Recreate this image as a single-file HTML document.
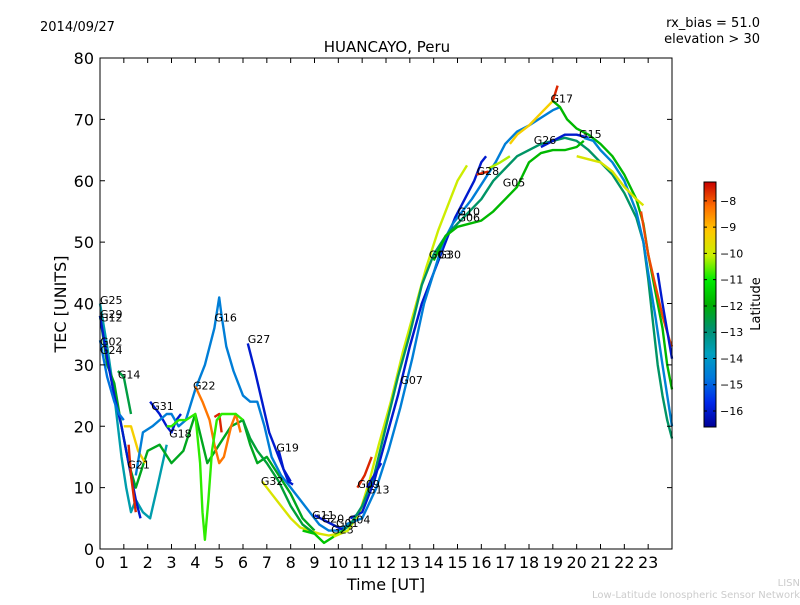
<!DOCTYPE html>
<html><head><meta charset="utf-8"><style>
body{margin:0;background:#fff;width:800px;height:600px;overflow:hidden}
svg text{font-family:"DejaVu Sans","Liberation Sans",sans-serif}
</style></head><body>
<svg id="chart" width="800" height="600" viewBox="0 0 800 600" xmlns="http://www.w3.org/2000/svg">
<rect width="800" height="600" fill="#fff"/>
<text x="40" y="31" font-size="13">2014/09/27</text>
<text x="760" y="27" font-size="13" text-anchor="end">rx_bias = 51.0</text>
<text x="760" y="43" font-size="13" text-anchor="end">elevation &gt; 30</text>
<text x="387" y="52" font-size="15" text-anchor="middle">HUANCAYO, Peru</text>
<text x="386" y="590" font-size="16" text-anchor="middle">Time [UT]</text>
<text transform="translate(66,304) rotate(-90)" font-size="16" text-anchor="middle">TEC [UNITS]</text>
<text x="800" y="586" font-size="10" fill="#ccc" text-anchor="end">LISN</text>
<text x="800" y="598" font-size="10" fill="#ccc" text-anchor="end">Low-Latitude Ionospheric Sensor Network</text>
<g id="series"></g>
<g id="labels"></g>
<rect x="100" y="58" width="572" height="491" fill="none" stroke="#000" stroke-width="1"/>
<g id="xticks"></g>
<g id="yticks"></g>
<defs><linearGradient id="cmapg" x1="0" y1="1" x2="0" y2="0"></linearGradient></defs>
<rect x="704" y="182" width="12" height="245" fill="url(#cmapg)" stroke="#000" stroke-width="1"/>
<g id="cticks"></g>
<text transform="translate(760,304) rotate(-90)" font-size="13" text-anchor="middle">Latitude</text>
</svg>
<script>
const xTicks=[0,1,2,3,4,5,6,7,8,9,10,11,12,13,14,15,16,17,18,19,20,21,22,23];
const yTicks=[0,10,20,30,40,50,60,70,80];
const cTicks=[-8,-9,-10,-11,-12,-13,-14,-15,-16];
const latMin=-16.61, latMax=-7.28;
const seriesNames=["G25","G29","G12","G02","G14","G21a","G21b","G31","teal16","G22","G22b","yg","G27","G19","G32","grn1","G11","grnB","riseA","riseB","riseC","riseD","riseE","G26","G17","G17r","G17g","G15","yel","orr","blu","G28","G28y","G09","G13"];
const seriesLat=[-13.6,-12.2,-16,-14.8,-12.5,-7.6,-9.3,-16,-14.6,-8.3,-7.6,-10.8,-16,-16,-9.8,-12.4,-16,-11.6,-10,-16,-14.6,-12.8,-11.8,-16,-9.3,-7.6,-11.8,-14.5,-9.8,-7.9,-16,-7.6,-10.2,-7.6,-16];
const seriesT=[
[0,0.3,0.6,0.9,1.1,1.3,1.5,1.8,2.1,2.4,2.8],
[0,0.3,0.6,0.9,1.2,1.5,2,2.5,3,3.5,4,4.5,5,5.5,6,6.3,6.6,7,7.5,8,8.5,9],
[0,0.3,0.6,0.9,1.1,1.3,1.5,1.7],
[0,0.3,0.6,0.8,1.0],
[0.75,1,1.2,1.3],
[1.2,1.3,1.4,1.5],
[1.0,1.3,1.6,1.9],
[2.1,2.5,2.8,3.0,3.2,3.4],
[1.5,1.8,2.2,2.5,2.8,3,3.3,3.6,4,4.4,4.8,5.0,5.1,5.3,5.6,6,6.3,6.6,6.9,7.2,7.6,8,8.4,8.8,9.2,9.6,10,10.4],
[4.0,4.3,4.6,4.8,5.0,5.2,5.5,5.7,5.9],
[4.8,5.0,5.1],
[2.8,3.0,3.3,3.6,4,4.2,4.3,4.4,4.55,4.7,4.9,5.1,5.4,5.7,6],
[6.2,6.5,6.8,7.1,7.4,7.7,8],
[7.5,7.7,7.9,8.1],
[6.8,7.2,7.6,8,8.4,8.8,9.2,9.6,10],
[6,6.3,6.6,7,7.5,8,8.5,9],
[9,9.5,10,10.3],
[8.5,9,9.4,9.8,10.2,10.5],
[9.8,10.4,10.9,11.3,11.7,12.2,12.7,13.2,13.7,14.2,14.7,15.0,15.4],
[10.5,11,11.5,12,12.5,13,13.5,14,14.5,14.9,15.3,15.7,16,16.2],
[10.3,11,11.6,12.1,12.6,13.1,13.6,14,14.4,14.8,15.2,15.6,16.1,16.6,17,17.5,18,18.4,19,19.3],
[10.2,10.5,11,11.5,12,12.5,13,13.5,14,14.5,15,15.5,16,16.5,17,17.5,18,18.5,19,19.5,20,20.5,21,21.5,22,22.5,22.8,23,23.2,23.4,23.6,23.8,24],
[14,14.5,15,15.5,16,16.5,17,17.5,18,18.5,19,19.5,20,20.3],
[18.5,19,19.5,20,20.5],
[17.2,17.5,18,18.5,19.0],
[19.0,19.2],
[19,19.3,19.6,20,20.5,21,21.5,22,22.5,22.8,23,23.3,23.6,23.8,24],
[20.3,20.7,21,21.5,22,22.5,22.8,23,23.3,23.6,24],
[20,20.5,21,21.5,22,22.5,22.8],
[22.7,23,23.3,23.6,23.9,24],
[23.4,23.6,24],
[15.8,16.3],
[16.3,16.8,17.2],
[10.8,11.1,11.4],
[11.2,11.5,11.8]
];
const seriesV=[
[40,33,25,15,10,6,8,6,5,10,17],
[38,30,27,20,14,10,16,17,14,16,22,14,17,20,21,17,14,15,12,9,5,3],
[38,31,25,20,16,12,8,5],
[34,28,24,22,21],
[29,28,24,22],
[17,12,9,6],
[20,20,16,14],
[24,22,20,19,21,22],
[12,19,20,21,22,22,20,21,26,30,36,41,38,33,29,25,24,24,20,15,12,10,8,6,4,3,3,4],
[26.5,24,21,17,14,15,20,22,19],
[21.5,22,19],
[20,20,21,21,22,14,6,1.5,8,16,21,22,22,22,21],
[33.5,29,24,19,16,13,11],
[16,13,11,10.5],
[11,9,7,5,3.5,3,2.5,2.2,2.5],
[21,18,16,14,11,7,4,2.5],
[5.5,4.5,3.5,3],
[3,2.5,1,2,3,4],
[2,3,6,11,17,24,32,39,46,52,57,60,62.5],
[5,6,11,18,25,33,40,45,50,54,57,60,63,64],
[4,5,10,16,23,31,40,45,50,53,55,57,60,63,66,68,69,70,71.5,72],
[3,4,7,12,20,28,35,43,48,51,53,55,57,60,62,64,65,66,66.5,67,66.5,65,63,61,58,54,50,44,37,30,25,21,18],
[47,51,52.5,53,53.5,55,57,59,63,64.5,65,65,65.5,66.5],
[65.5,66.5,67.5,67.5,67],
[66,67.5,69,71,73],
[73,75.5],
[73,72,70,68.5,67.5,66,64,61,57,53,48,42,36,30,26],
[67,66.5,65,63,60,55,50,45,38,30,20],
[64,63.5,63,61.5,59,57,56],
[55,48,43,38,34,33],
[45,40,31],
[61,61.5],
[62,63,64],
[10,12,15],
[10,12,14]
];
const labelNames=["G25","G29","G12","G02","G24","G14","G21","G31","G18","G22","G16","G27","G19","G32","G11","G20","G01","G04","G23","G09","G13","G07","G03","G30","G10","G06","G28","G05","G26","G17","G15"];
const labelT=[0,0,0,0,0,0.75,1.15,2.15,2.9,3.9,4.8,6.2,7.4,6.75,8.9,9.3,9.9,10.4,9.7,10.8,11.2,12.6,13.8,14.2,15.0,15.0,15.8,16.9,18.2,18.9,20.1];
const labelV=[40.6,38.3,37.7,33.8,32.4,28.4,13.8,23.3,18.8,26.6,37.7,34.2,16.5,11.1,5.5,5,4.2,4.8,3.2,10.6,9.7,27.5,48,48,55,54,61.6,59.7,66.6,73.4,67.6];

// colormap stops: position (0=min lat,1=max lat) and colour
const cmapPos=[0,0.1,0.2,0.3,0.4,0.5,0.6,0.7,0.8,0.9,1];
const cmapCol=[[0,0,150],[0,40,235],[0,120,220],[0,160,190],[0,145,110],[0,175,0],[0,235,0],[200,240,0],[255,200,0],[255,110,0],[200,0,0]];
const X=h=>100+h*572/24;
const Y=v=>549-v*491/80;
const C=l=>182+(latMax-l)/(latMax-latMin)*245;
function cmap(t){t=Math.max(0,Math.min(1,t));
 for(let i=1;i<cmapPos.length;i++){if(t<=cmapPos[i]){const f=(t-cmapPos[i-1])/(cmapPos[i]-cmapPos[i-1]);const a=cmapCol[i-1],b=cmapCol[i];
 return `rgb(${Math.round(a[0]+(b[0]-a[0])*f)},${Math.round(a[1]+(b[1]-a[1])*f)},${Math.round(a[2]+(b[2]-a[2])*f)})`;}}
 return 'rgb(200,0,0)';}
const NS="http://www.w3.org/2000/svg";
const grad=document.getElementById('cmapg');
cmapPos.forEach((p,i)=>{const s=document.createElementNS(NS,'stop');s.setAttribute('offset',p);s.setAttribute('stop-color',`rgb(${cmapCol[i].join(',')})`);grad.appendChild(s);});
const sg=document.getElementById('series');
seriesT.forEach((ts,i)=>{
 const p=document.createElementNS(NS,'polyline');
 p.setAttribute('points',ts.map((t,j)=>X(t).toFixed(1)+','+Y(seriesV[i][j]).toFixed(1)).join(' '));
 p.setAttribute('fill','none');
 p.setAttribute('stroke',cmap((seriesLat[i]-latMin)/(latMax-latMin)));
 p.setAttribute('stroke-width','2.4');
 p.setAttribute('stroke-linejoin','round');
 
 
 sg.appendChild(p);
});
const lg=document.getElementById('labels');
labelNames.forEach((n,i)=>{
 const t=document.createElementNS(NS,'text');
 t.setAttribute('x',X(labelT[i]));t.setAttribute('y',Y(labelV[i])+4);
 t.setAttribute('font-size','11');t.textContent=n;
 
 
 lg.appendChild(t);
});
const xg=document.getElementById('xticks');
xTicks.forEach(h=>{
 const x=X(h);
 const l=document.createElementNS(NS,'path');
 l.setAttribute('d',`M${x},549v-5M${x},58v5`);l.setAttribute('stroke','#000');
 
 
 xg.appendChild(l);
 const t=document.createElementNS(NS,'text');
 t.setAttribute('x',x);t.setAttribute('y',568);t.setAttribute('font-size','16');t.setAttribute('text-anchor','middle');t.textContent=h;
 
 
 xg.appendChild(t);
});
const yg=document.getElementById('yticks');
yTicks.forEach(v=>{
 const y=Y(v);
 const l=document.createElementNS(NS,'path');
 l.setAttribute('d',`M100,${y}h5M672,${y}h-5`);l.setAttribute('stroke','#000');
 
 
 yg.appendChild(l);
 const t=document.createElementNS(NS,'text');
 t.setAttribute('x',94);t.setAttribute('y',y+6);t.setAttribute('font-size','16');t.setAttribute('text-anchor','end');t.textContent=v;
 
 
 yg.appendChild(t);
});
const cg=document.getElementById('cticks');
cTicks.forEach(v=>{
 const y=C(v);
 const l=document.createElementNS(NS,'path');
 l.setAttribute('d',`M704,${y}h3M716,${y}h-3`);l.setAttribute('stroke','#000');
 
 
 cg.appendChild(l);
 const t=document.createElementNS(NS,'text');
 t.setAttribute('x',720);t.setAttribute('y',y+4);t.setAttribute('font-size','11');t.textContent='\u2212'+Math.abs(v);
 
 
 cg.appendChild(t);
});
</script>
</body></html>
